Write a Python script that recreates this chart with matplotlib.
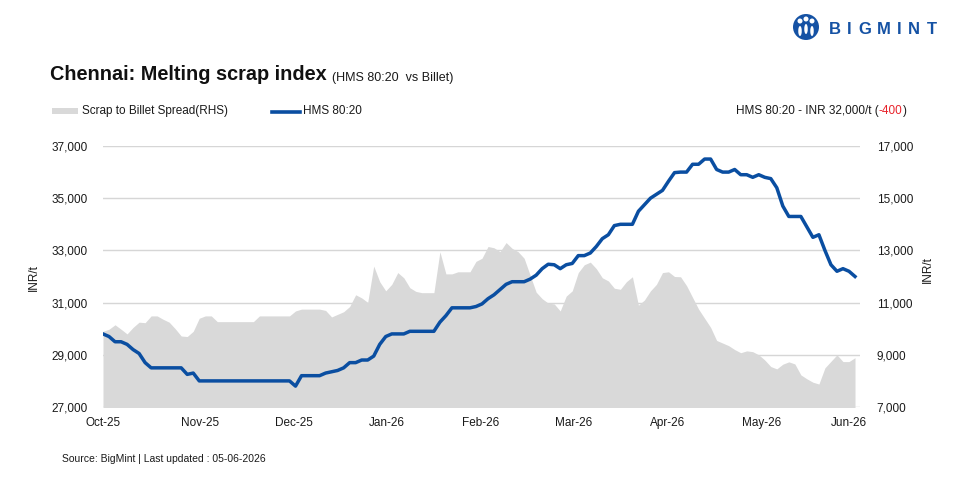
import numpy as np
import matplotlib
matplotlib.use("Agg")
import matplotlib.pyplot as plt
from matplotlib.patches import Ellipse, Rectangle
from matplotlib.lines import Line2D
from matplotlib.ticker import FuncFormatter

plt.rcParams['font.family'] = ['Liberation Sans', 'DejaVu Sans']

# HMS 80:20 price, INR/t (left axis)
hms = [29800, 29700, 29500, 29500, 29400, 29200, 29050, 28700, 28500, 28500,
       28500, 28500, 28500, 28500, 28250, 28300, 28000, 28000, 28000, 28000,
       28000, 28000, 28000, 28000, 28000, 28000, 28000, 28000, 28000, 28000,
       28000, 28000, 27800, 28200, 28200, 28200, 28200, 28300, 28350, 28400,
       28500, 28700, 28700, 28800, 28800, 28950, 29400, 29700, 29800, 29800,
       29800, 29900, 29900, 29900, 29900, 29900, 30250, 30500, 30800, 30800,
       30800, 30800, 30850, 30950, 31150, 31300, 31500, 31700, 31800, 31800,
       31800, 31900, 32050, 32300, 32470, 32450, 32300, 32450, 32500, 32800,
       32800, 32900, 33150, 33450, 33600, 33950, 34000, 34000, 34000, 34500,
       34750, 35000, 35150, 35300, 35650, 35980, 36000, 36000, 36300, 36300,
       36500, 36500, 36100, 36000, 36000, 36100, 35900, 35900, 35800, 35900,
       35800, 35750, 35400, 34700, 34300, 34300, 34300, 33900, 33500, 33600,
       33000, 32450, 32200, 32300, 32200, 32000]

# Scrap to billet spread, INR/t (right axis)
spread = [9900, 9980, 10150, 9980, 9800, 10050, 10250, 10230, 10490, 10490,
          10360, 10250, 10000, 9720, 9700, 9900, 10400, 10490, 10490, 10270,
          10270, 10270, 10270, 10270, 10270, 10270, 10490, 10490, 10490, 10490,
          10490, 10490, 10680, 10750, 10750, 10750, 10750, 10700, 10450, 10550,
          10650, 10850, 11300, 11180, 11010, 12400, 11800, 11450, 11700, 12150,
          11950, 11570, 11430, 11380, 11380, 11380, 12950, 12100, 12100, 12180,
          12180, 12180, 12580, 12700, 13150, 13100, 12950, 13300, 13080, 12950,
          12700, 12050, 11400, 11150, 10980, 10950, 10680, 11250, 11450, 12150,
          12450, 12550, 12300, 11950, 11830, 11550, 11510, 11800, 11990, 10900,
          11100, 11450, 11700, 12150, 12180, 12000, 11990, 11650, 11200, 10750,
          10400, 10050, 9550, 9450, 9350, 9200, 9080, 9150, 9120, 9000,
          8800, 8550, 8460, 8640, 8730, 8650, 8230, 8080, 7950, 7880,
          8500, 8750, 9000, 8740, 8740, 8890]

months = ['Oct-25', 'Nov-25', 'Dec-25', 'Jan-26', 'Feb-26', 'Mar-26', 'Apr-26', 'May-26', 'Jun-26']
month_pos = [0, 16.1, 31.7, 47.2, 62.8, 78.3, 93.9, 109.5, 124.0]

left_ticks = [27000, 29000, 31000, 33000, 35000, 37000]
right_ticks = [7000, 9000, 11000, 13000, 15000, 17000]

BLUE = '#0a4ea1'
GREY = '#d9d9d9'
TXT = '#1a1a1a'

W, H = 960, 480
fig = plt.figure(figsize=(W / 100, H / 100), dpi=100)

def fx(px):
    return px / W

def fy(py):
    return 1 - py / H

x = np.arange(len(hms))

ax = fig.add_axes([fx(103), fy(407), fx(860) - fx(103), fy(146) - fy(407)])
ax2 = ax.twinx()
ax.set_zorder(ax2.get_zorder() + 1)
ax.patch.set_visible(False)

ax2.fill_between(x, 0, spread, color=GREY, lw=0)
ax2.set_ylim(7000, 17000)
ax2.set_yticks(right_ticks)
ax2.set_axisbelow(True)
ax2.grid(axis='y', color='#d6d6d6', lw=1)

ax.plot(x, hms, color=BLUE, lw=2.5, solid_joinstyle='round')
ax.set_ylim(27000, 37000)
ax.set_yticks(left_ticks)
ax.set_xlim(0, len(hms) - 1 + 0.83)
ax.set_xticks(month_pos)
ax.set_xticklabels(months)

fmt = FuncFormatter(lambda v, p: f'{int(v):,}')
for a in (ax, ax2):
    a.yaxis.set_major_formatter(fmt)
    for s in a.spines.values():
        s.set_visible(False)
    a.tick_params(length=0, labelsize=8.5, colors=TXT)
ax.tick_params(axis='y', pad=11)
ax2.tick_params(axis='y', pad=12)
ax.tick_params(axis='x', pad=7)

fig.text(fx(34), fy(278), 'INR/t', rotation=90, ha='center', va='center', fontsize=8.5, color=TXT)
fig.text(fx(928), fy(270), 'INR/t', rotation=90, ha='center', va='center', fontsize=8.5, color=TXT)

# title
t = fig.text(fx(50), fy(80), 'Chennai: Melting scrap index', fontsize=14.3, fontweight='bold',
             color='#111111', va='baseline')
fig.canvas.draw()
ax.annotate('(HMS 80:20  vs Billet)', xy=(1, 0), xycoords=t, xytext=(4, 0),
            textcoords='offset points', fontsize=9, color=TXT, va='bottom')

# legend
fig.patches.append(Rectangle((fx(52), fy(114)), fx(26), fy(108) - fy(114), transform=fig.transFigure,
                             color=GREY, lw=0))
fig.text(fx(82), fy(111), 'Scrap to Billet Spread(RHS)', fontsize=8.5, color=TXT, va='center')
fig.lines.append(Line2D([fx(272), fx(300)], [fy(111.5), fy(111.5)], transform=fig.transFigure,
                        color=BLUE, lw=2.6))
fig.text(fx(303), fy(111), 'HMS 80:20', fontsize=8.5, color=TXT, va='center')

# latest price note
a1 = fig.text(fx(736), fy(111), 'HMS 80:20 - INR 32,000/t (', fontsize=8.5, color=TXT, va='center')
fig.canvas.draw()
a2 = ax.annotate('-400', xy=(1, 0), xycoords=a1, fontsize=8.5, color='#e8222a', va='bottom')
fig.canvas.draw()
ax.annotate(')', xy=(1, 0), xycoords=a2, fontsize=8.5, color=TXT, va='bottom')

fig.text(fx(62), fy(459), 'Source: BigMint | Last updated : 05-06-2026', fontsize=7.5, color=TXT, va='center')

# logo
logo_blue = '#1552a4'
fig.patches.append(Ellipse((fx(806), fy(27)), 26 / W, 26 / H, transform=fig.transFigure,
                           color=logo_blue, lw=0))
for dx, dy in ((-6, 0), (0, -2), (6, 0)):
    fig.patches.append(Ellipse((fx(806 + dx), fy(21 + dy)), 5 / W, 5 / H, transform=fig.transFigure,
                               color='white', lw=0))
    fig.patches.append(Ellipse((fx(806 + dx), fy(31 + dy)), 3.5 / W, 10 / H, transform=fig.transFigure,
                               color='white', lw=0))
prev = fig.text(fx(829), fy(29), 'B', fontsize=12, fontweight='bold', color=logo_blue, va='center')
fig.canvas.draw()
for ch in 'IGMINT':
    prev = ax.annotate(ch, xy=(1, 0), xycoords=prev, xytext=(4.5, 0), textcoords='offset points',
                       fontsize=12, fontweight='bold', color=logo_blue, va='bottom')
    fig.canvas.draw()

fig.savefig('out.png', dpi=100)
